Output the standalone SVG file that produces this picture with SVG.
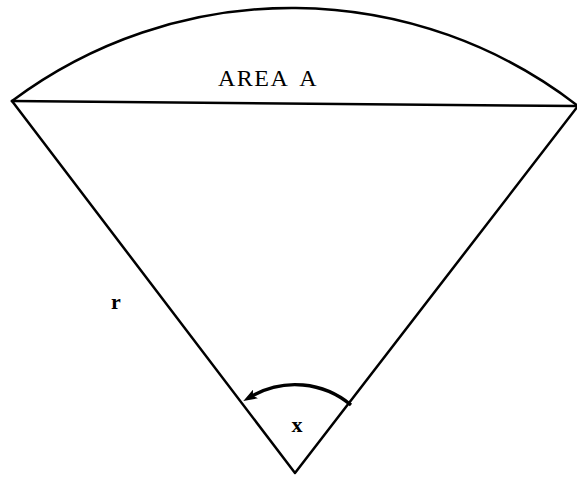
<svg xmlns="http://www.w3.org/2000/svg" width="577" height="477" viewBox="0 0 577 477">
<defs>
<style>
.ln{fill:none;stroke:#000;stroke-width:2.5;stroke-linecap:round;stroke-linejoin:round}
.arr{fill:none;stroke:#000;stroke-width:3.4}
.t{font-family:"Liberation Serif","Times New Roman",serif;fill:#000}
</style>
<marker id="ah" viewBox="0 0 14 10" refX="4" refY="5" markerWidth="14" markerHeight="10" markerUnits="userSpaceOnUse" orient="auto">
<path d="M14,5 L0,0 L3,5 L0,10 Z" fill="#000"/>
</marker>
</defs>
<rect width="577" height="477" fill="#fff"/>
<g id="sector">
<path class="ln" d="M12,101 L295,473 L578,106"/>
</g>
<g id="segment">
<path class="ln" d="M12,101 A467,467 0 0 1 578,106"/>
<path class="ln" d="M12,101 L578,106"/>
</g>
<g id="connectors">
<path class="arr" marker-end="url(#ah)" d="M351,405 A87,87 0 0 0 252,396"/>
</g>
<g id="labels">
<text class="t" x="268" y="86" font-size="24" letter-spacing="1.5" word-spacing="5" text-anchor="middle">AREA A</text>
<text class="t" x="116" y="309" font-size="22" font-weight="bold" text-anchor="middle">r</text>
<text class="t" x="297" y="432" font-size="22" font-weight="bold" text-anchor="middle">x</text>
</g>
</svg>
